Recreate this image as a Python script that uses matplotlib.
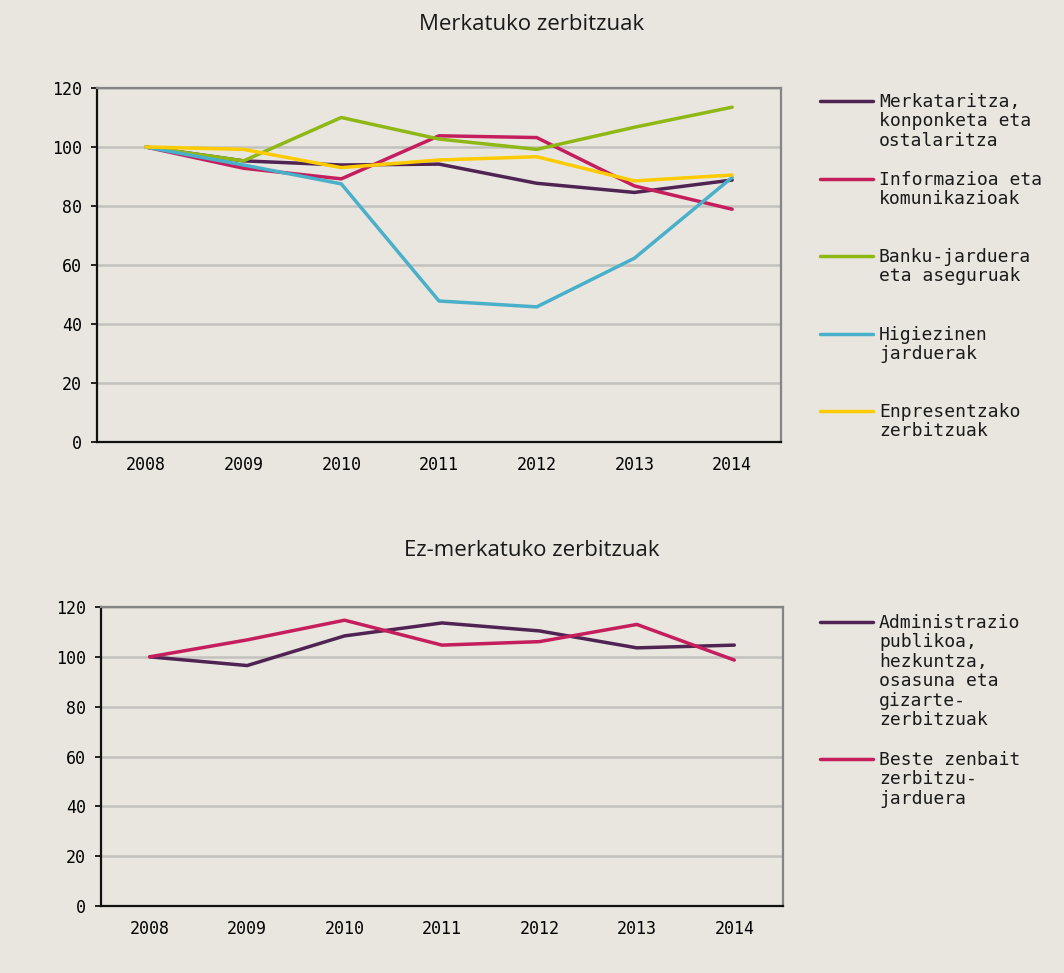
import matplotlib
matplotlib.use("Agg")
import matplotlib.pyplot as plt
from matplotlib.lines import Line2D

# datos
years = ["2008", "2009", "2010", "2011", "2012", "2013", "2014"]

merkataritza = [100, 95.3, 93.9, 94.2, 87.7, 84.6, 88.8]
informazioa = [100, 92.8, 89.2, 103.8, 103.2, 86.8, 78.9]
banku = [100, 95.3, 110.0, 102.7, 99.2, 106.7, 113.5]
higiezinen = [100, 93.9, 87.5, 47.8, 45.8, 62.3, 89.7]
enpresentzako = [100, 99.2, 93.0, 95.6, 96.7, 88.5, 90.5]

administrazioa = [100, 96.5, 108.4, 113.6, 110.4, 103.6, 104.7]
beste = [100, 106.8, 114.7, 104.7, 106.1, 113.0, 98.7]

top_labels = ["Merkataritza,\nkonponketa eta\nostalaritza",
              "Informazioa eta\nkomunikazioak",
              "Banku-jarduera\neta aseguruak",
              "Higiezinen\njarduerak",
              "Enpresentzako\nzerbitzuak"]
bottom_labels = ["Administrazio\npublikoa,\nhezkuntza,\nosasuna eta\ngizarte-\nzerbitzuak",
                 "Beste zenbait\nzerbitzu-\njarduera"]

PURPLE = "#4f2452"
CRIMSON = "#c41e5c"
GREEN = "#8fb814"
BLUE = "#4aafc9"
YELLOW = "#fecb00"
BG = "#e9e6e0"

W, H = 1064, 973
fig = plt.figure(figsize=(W / 100, H / 100), dpi=100, facecolor=BG)

mono = "DejaVu Sans Mono"


def panel(rect, series, colors, labels, title, title_y, leg_y):
    ax = fig.add_axes(rect, facecolor=BG)
    x = range(len(years))
    for vals, c in zip(series, colors):
        ax.plot(x, vals, color=c, lw=2.5, solid_capstyle="round", zorder=3)
    ax.set_xlim(-0.5, len(years) - 0.5)
    ax.set_ylim(0, 120)
    ax.set_yticks(range(0, 121, 20))
    ax.set_xticks(list(x))
    ax.set_xticklabels(years)
    ax.grid(axis="y", color="#c3c1bd", lw=1.8, zorder=1)
    ax.set_axisbelow(True)
    ax.tick_params(axis="x", length=0, pad=10, labelsize=12)
    ax.tick_params(axis="y", length=4, width=1.2, pad=7, labelsize=12)
    for lab in ax.get_xticklabels() + ax.get_yticklabels():
        lab.set_family(mono)
    ax.spines["left"].set_color("#111111")
    ax.spines["bottom"].set_color("#111111")
    ax.spines["top"].set_color("#858585")
    ax.spines["right"].set_color("#858585")
    for s in ax.spines.values():
        s.set_linewidth(1.6)
    fig.text(0.5, 1 - title_y / H, title, ha="center", va="center",
             fontsize=16, family="Open Sans", color="#1a1a1a")
    # leyenda manual
    for c, lab, yy in zip(colors, labels, leg_y):
        yf = 1 - yy / H
        fig.add_artist(Line2D([820 / W, 873 / W], [yf, yf], color=c, lw=2.5,
                              solid_capstyle="round", transform=fig.transFigure))
        fig.text(879 / W, yf + 8 / H, lab, ha="left", va="top", fontsize=13,
                 family=mono, linespacing=1.1, color="#1a1a1a")
    return ax


panel([97 / W, 1 - 442 / H, 684 / W, 354 / H],
      [merkataritza, informazioa, banku, higiezinen, enpresentzako],
      [PURPLE, CRIMSON, GREEN, BLUE, YELLOW],
      top_labels, "Merkatuko zerbitzuak", 25,
      [101, 179, 256, 334, 411])

panel([101 / W, 1 - 906 / H, 682 / W, 299 / H],
      [administrazioa, beste],
      [PURPLE, CRIMSON],
      bottom_labels, "Ez-merkatuko zerbitzuak", 550,
      [622, 759])

fig.savefig("out.png", dpi=100, facecolor=BG)
